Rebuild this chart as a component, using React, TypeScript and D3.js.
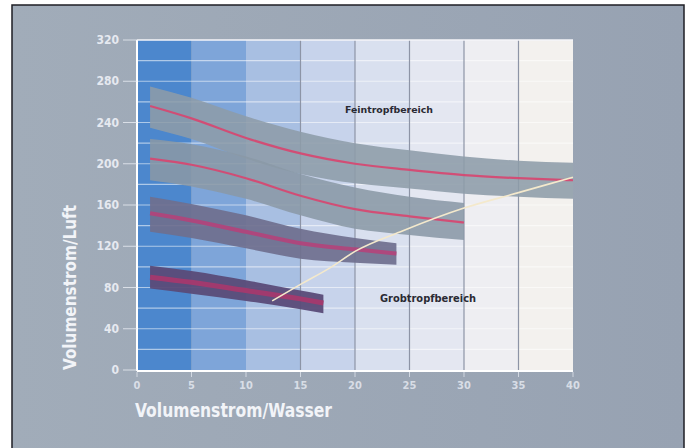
import React from "react";
import * as d3 from "d3";

const xTicks = [0, 5, 10, 15, 20, 25, 30, 35, 40];
const yTicks = [0, 40, 80, 120, 160, 200, 240, 280, 320];
const columnStarts = [0, 5, 10, 15, 20, 25, 30, 35];
const columnColors = ["#4c87cd", "#7ea5d9", "#a8bfe2", "#c7d3eb", "#d9e0ef", "#e4e7f1", "#eeeef2", "#f3f1ee"];
const verticalGrid = [15, 20, 25, 30, 35];

const band1X = [1.2, 5, 10, 15, 20, 25, 30, 35, 40];
const band1Mid = [256, 244, 225, 210, 200, 194, 189, 186, 184];
const band1Hi = [275, 264, 246, 231, 220, 213, 207, 203, 201];
const band1Lo = [235, 224, 205, 190, 181, 176, 171, 168, 166];

const band2X = [1.2, 5, 10, 15, 20, 25, 30];
const band2Mid = [205, 199, 186, 169, 156, 149, 143];
const band2Hi = [224, 219, 207, 190, 177, 168, 162];
const band2Lo = [184, 178, 166, 150, 137, 131, 126];

const band3X = [1.2, 5, 10, 15, 20, 23.8];
const band3Mid = [152, 145, 134, 123, 117, 113];
const band3Hi = [168, 161, 150, 137, 128, 123];
const band3Lo = [134, 128, 118, 108, 104, 102];

const band4X = [1.2, 5, 10, 15, 17.1];
const band4Mid = [90, 85, 77, 69, 65];
const band4Hi = [101, 96, 87, 77, 73];
const band4Lo = [79, 74, 67, 59, 55];

const borderX = [12.4, 15, 17.7, 20, 24.4, 30, 35, 40];
const borderY = [67, 83, 99, 115, 135, 157, 172, 187];

const FONT = "'DejaVu Sans Condensed', 'Liberation Sans Narrow', 'DejaVu Sans', sans-serif";

export default function App() {
  const W = 691, H = 448;
  const x = d3.scaleLinear().domain([0, 40]).range([137, 573]);
  const y = d3.scaleLinear().domain([0, 320]).range([370, 40]);

  const bands = [
    { xs: band1X, mid: band1Mid, hi: band1Hi, lo: band1Lo, fill: "#8d9ca8", op: 0.88, line: "#d8456f", lw: 2.2 },
    { xs: band2X, mid: band2Mid, hi: band2Hi, lo: band2Lo, fill: "#8a99a6", op: 0.88, line: "#d8456f", lw: 2.2 },
    { xs: band3X, mid: band3Mid, hi: band3Hi, lo: band3Lo, fill: "#6f6f8e", op: 0.92, line: "#b4427a", lw: 4 },
    { xs: band4X, mid: band4Mid, hi: band4Hi, lo: band4Lo, fill: "#5a4b78", op: 0.95, line: "#a8376d", lw: 5 },
  ];

  const area = d3
    .area<number>()
    .curve(d3.curveMonotoneX);
  const line = d3.line<[number, number]>().curve(d3.curveMonotoneX);

  return (
    <svg width={W} height={H} style={{ position: "absolute", left: 0, top: 0 }}>
      <defs>
        <linearGradient id="bg" x1="0" x2="1" y1="0" y2="0">
          <stop offset="0" stopColor="#a1acb9" />
          <stop offset="1" stopColor="#97a2b2" />
        </linearGradient>
      </defs>
      <rect x={0} y={0} width={W} height={H} fill="#ffffff" />
      <rect x={12} y={5} width={672} height={460} fill="url(#bg)" stroke="#1e1e24" strokeWidth={1.5} />

      {columnStarts.map((c, i) => (
        <rect key={"c" + i} x={x(c)} y={y(320)} width={x(c + 5) - x(c)} height={y(0) - y(320)} fill={columnColors[i]} />
      ))}

      {d3.range(20, 320, 20).map((v) => (
        <line key={"h" + v} x1={x(0)} x2={x(40)} y1={y(v)} y2={y(v)} stroke="#ffffff" strokeOpacity={0.55} strokeWidth={1.2} />
      ))}
      {verticalGrid.map((v) => (
        <line key={"v" + v} x1={x(v)} x2={x(v)} y1={y(320)} y2={y(0)} stroke="#8d94a6" strokeWidth={1.2} />
      ))}

      {bands.map((b, i) => {
        const pts = b.xs.map((_, k) => k);
        const a = d3
          .area<number>()
          .x((k) => x(b.xs[k]))
          .y0((k) => y(b.lo[k]))
          .y1((k) => y(b.hi[k]))
          .curve(d3.curveMonotoneX);
        const l = d3
          .line<number>()
          .x((k) => x(b.xs[k]))
          .y((k) => y(b.mid[k]))
          .curve(d3.curveMonotoneX);
        return (
          <g key={"b" + i}>
            <path d={a(pts) || ""} fill={b.fill} fillOpacity={b.op} />
            <path d={l(pts) || ""} fill="none" stroke={b.line} strokeWidth={b.lw} strokeOpacity={0.9} />
          </g>
        );
      })}

      <path
        d={line(borderX.map((v, i) => [x(v), y(borderY[i])] as [number, number])) || ""}
        fill="none"
        stroke="#f4e9cc"
        strokeWidth={1.6}
      />

      <line x1={x(0)} x2={x(0)} y1={y(320)} y2={y(0) + 1} stroke="#ffffff" strokeWidth={2} />
      <line x1={x(0)} x2={x(40)} y1={y(0) + 1} y2={y(0) + 1} stroke="#ffffff" strokeWidth={2} />
      <line x1={x(0)} x2={x(40)} y1={y(320)} y2={y(320)} stroke="#f4f4f8" strokeWidth={1.5} />

      {yTicks.map((v) => (
        <g key={"yt" + v}>
          <line x1={123} x2={x(0)} y1={y(v)} y2={y(v)} stroke="#e8ecf3" strokeOpacity={0.8} strokeWidth={1} />
          <text x={119} y={y(v) + 4} textAnchor="end" fontFamily={FONT} fontWeight="bold" fontSize={12} fill="#e6e9f0">
            {v}
          </text>
        </g>
      ))}
      {xTicks.map((v) => (
        <g key={"xt" + v}>
          <line x1={x(v)} x2={x(v)} y1={y(0) + 2} y2={y(0) + 7} stroke="#e8ecf3" strokeOpacity={0.7} strokeWidth={1} />
          <text x={x(v)} y={389} textAnchor="middle" fontFamily={FONT} fontWeight="bold" fontSize={11} fill="#e4e8f0" fillOpacity={0.85}>
            {v}
          </text>
        </g>
      ))}

      <text x={135} y={417} fontFamily={FONT} fontWeight="bold" fontSize={20} fill="#f2f4f8" textLength={197} lengthAdjust="spacingAndGlyphs">
        Volumenstrom/Wasser
      </text>
      <text
        transform={`translate(76, 370) rotate(-90)`}
        fontFamily={FONT}
        fontWeight="bold"
        fontSize={18}
        fill="#f2f4f8"
        textLength={165}
        lengthAdjust="spacingAndGlyphs"
      >
        Volumenstrom/Luft
      </text>

      <text x={345} y={113} fontFamily={FONT} fontWeight="bold" fontSize={9} fill="#2a2a33" textLength={88} lengthAdjust="spacingAndGlyphs">
        Feintropfbereich
      </text>
      <text x={380} y={302} fontFamily={FONT} fontWeight="bold" fontSize={10} fill="#2a2a33" textLength={96} lengthAdjust="spacingAndGlyphs">
        Grobtropfbereich
      </text>
    </svg>
  );
}
